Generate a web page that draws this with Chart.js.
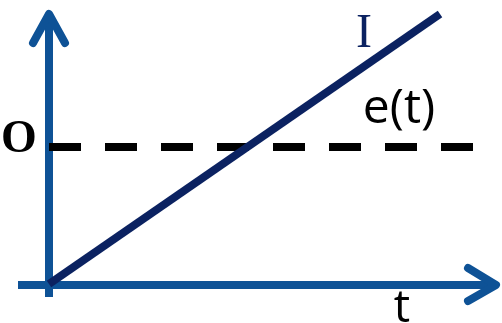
<!DOCTYPE html>
<html>
<head>
<meta charset="utf-8">
<script src="https://cdn.jsdelivr.net/npm/chart.js@4"></script>
<style>
  html, body { margin: 0; padding: 0; background: #ffffff; }
  #wrap { width: 502px; height: 323px; position: relative; }
</style>
</head>
<body>
<div id="wrap"><canvas id="chart"></canvas></div>
<script>
// diagram units: origin at the axes' crossing, y grows upward
const lineX = [0, 391];
const lineY = [1, 271];
const dashX = [0, 424];
const dashY = [138, 138];
const yAxisX = [0, 0];
const yAxisY = [-12, 271];
const yArrowX = [-16, 0, 16];
const yArrowY = [242, 271, 242];
const xAxisX = [-31, 447];
const xAxisY = [0, 0];
const xArrowX = [419, 447, 419];
const xArrowY = [17, 0, -16];

const labelText = ["I", "e(t)", "O", "t"];
const labelX = [315, 350, -30, 353];
const labelY = [238, 162, 133, -37];

const AXIS_BLUE = "#0e5296";
const NAVY = "#0b2261";

const pts = (xs, ys) => xs.map((x, i) => ({ x, y: ys[i] }));

// labels are placed through the scales, drawn after the lines
const labelPlugin = {
  id: "labels",
  afterDatasetsDraw(chart) {
    const { ctx, scales } = chart;
    const fonts = [
      "48px 'Liberation Serif'",
      "48px 'Open Sans'",
      "bold 46px 'Liberation Serif'",
      "46px 'Open Sans'",
    ];
    const colors = [NAVY, "#000000", "#000000", "#000000"];
    ctx.save();
    ctx.textAlign = "center";
    ctx.textBaseline = "alphabetic";
    labelText.forEach((txt, i) => {
      ctx.font = fonts[i];
      ctx.fillStyle = colors[i];
      ctx.fillText(txt, scales.x.getPixelForValue(labelX[i]), scales.y.getPixelForValue(labelY[i]));
    });
    ctx.restore();
  },
};

const seg = (data, color, extra = {}) => ({
  data,
  showLine: true,
  borderColor: color,
  borderWidth: 8,
  pointRadius: 0,
  fill: false,
  tension: 0,
  ...extra,
});

new Chart(document.getElementById("chart"), {
  type: "scatter",
  data: {
    datasets: [
      seg(pts(lineX, lineY), NAVY),
      seg(pts(dashX, dashY), "#000000", { borderDash: [32, 24] }),
      seg(pts(xArrowX, xArrowY), AXIS_BLUE, { borderCapStyle: "round", borderJoinStyle: "round" }),
      seg(pts(yArrowX, yArrowY), AXIS_BLUE, { borderCapStyle: "round", borderJoinStyle: "round" }),
      seg(pts(xAxisX, xAxisY), AXIS_BLUE),
      seg(pts(yAxisX, yAxisY), AXIS_BLUE),
    ],
  },
  options: {
    responsive: true,
    maintainAspectRatio: false,
    animation: false,
    layout: { padding: 0 },
    plugins: { legend: { display: false }, tooltip: { enabled: false } },
    scales: {
      x: { type: "linear", display: false, min: -49, max: 453 },
      y: { type: "linear", display: false, min: -38, max: 285 },
    },
  },
  plugins: [labelPlugin],
});
</script>
</body>
</html>
